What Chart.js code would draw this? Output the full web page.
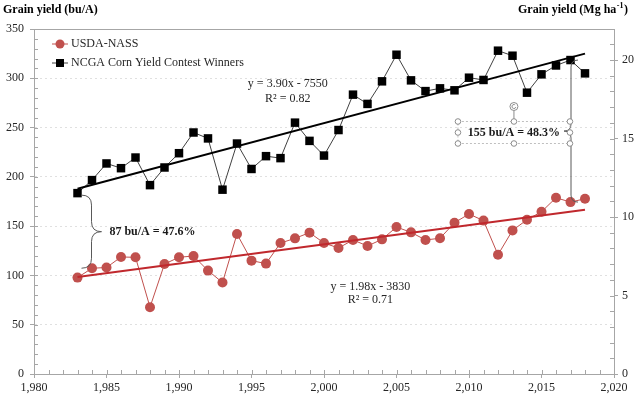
<!DOCTYPE html>
<html>
<head>
<meta charset="utf-8">
<script src="https://cdn.jsdelivr.net/npm/chart.js@4.4.1/dist/chart.umd.min.js"></script>
<style>
  html, body { margin: 0; padding: 0; background: #fff; }
  #wrap { width: 640px; height: 396px; }
</style>
</head>
<body>
<div id="wrap"><canvas id="chartYield"></canvas></div>
<script>
// Anos e produtividades (bu/A)
const years = [1983, 1984, 1985, 1986, 1987, 1988, 1989, 1990, 1991, 1992, 1993, 1994,
  1995, 1996, 1997, 1998, 1999, 2000, 2001, 2002, 2003, 2004, 2005, 2006,
  2007, 2008, 2009, 2010, 2011, 2012, 2013, 2014, 2015, 2016, 2017, 2018];
const nassYield = [97.8, 107.3, 108, 118.7, 118.4, 67.8, 111.6, 118.4, 119.7, 104.9, 92.8, 142,
  115, 112, 132.9, 137.6, 143.4, 132.9, 127.8, 136, 129.9, 136.6, 149.1, 143.7,
  136, 137.7, 153.5, 162.3, 155.6, 121, 145.7, 156.5, 164.6, 178.8, 174.4, 177.8];
const ncgaYield = [183.5, 196.7, 213.6, 208.8, 219.6, 191.6, 209.5, 224, 245, 239, 187, 233.8,
  208, 221, 219, 255, 236.5, 221.6, 247.5, 283.4, 274, 296.9, 323.9, 297.9,
  287, 289.8, 287.8, 300.6, 298.3, 328, 322.9, 285.4, 304, 313, 318.5, 305];

// Linhas de tendencia (extremos)
const trendYears = [1983, 2018];
const nassTrend = [98.5, 166.7];
const ncgaTrend = [188, 325];

const seriesNames = ['USDA-NASS', 'NCGA Corn Yield Contest Winners'];
const BU_TO_MG = 0.0628; // 1 bu/A milho = 0.0628 Mg/ha
const Y_MAX = 350;

const FONT = "'Liberation Serif', 'DejaVu Serif', serif";
const RED = '#c0504d';

function pts(xs, ys) { return xs.map((x, i) => ({ x: x, y: ys[i] })); }

function brace(ctx, x, y1, y2, d, r) {
  const ym = (y1 + y2) / 2;
  ctx.beginPath();
  ctx.moveTo(x - d * r, y1);
  ctx.quadraticCurveTo(x, y1, x, y1 + r);
  ctx.lineTo(x, ym - r);
  ctx.quadraticCurveTo(x, ym, x + d * r, ym);
  ctx.quadraticCurveTo(x, ym, x, ym + r);
  ctx.lineTo(x, y2 - r);
  ctx.quadraticCurveTo(x, y2, x - d * r, y2);
  ctx.stroke();
}

const decor = {
  id: 'decor',
  beforeDatasetsDraw(chart) {
    const { ctx, chartArea: a, scales } = chart;
    ctx.save();
    ctx.strokeStyle = '#a6a6a6';
    ctx.lineWidth = 1;
    // moldura da area de plotagem
    ctx.strokeRect(Math.round(a.left) + 0.5, Math.round(a.top) + 0.5,
      Math.round(a.right - a.left), Math.round(a.bottom - a.top));
    ctx.beginPath();
    for (let yr = 1980; yr <= 2020; yr++) {
      const px = Math.round(scales.x.getPixelForValue(yr)) + 0.5;
      ctx.moveTo(px, a.bottom); ctx.lineTo(px, a.bottom - 4);
    }
    for (let v = 0; v <= Y_MAX; v += 10) {
      const py = Math.round(scales.y.getPixelForValue(v)) + 0.5;
      ctx.moveTo(a.left, py); ctx.lineTo(a.left + 4, py);
    }
    for (let v = 0; v <= 21; v++) {
      const py = Math.round(scales.y2.getPixelForValue(v)) + 0.5;
      ctx.moveTo(a.right, py); ctx.lineTo(a.right - 4, py);
    }
    ctx.stroke();
    ctx.restore();
  },
  afterDraw(chart) {
    const { ctx, chartArea: a, scales } = chart;
    const X = v => scales.x.getPixelForValue(v);
    const Y = v => scales.y.getPixelForValue(v);
    ctx.save();

    // titulos dos eixos
    ctx.fillStyle = '#000';
    ctx.textBaseline = 'middle';
    ctx.font = 'bold 12px ' + FONT;
    ctx.textAlign = 'left';
    ctx.fillText('Grain yield (bu/A)', 3, 10);
    const t1 = 'Grain yield (Mg ha', t2 = ')';
    ctx.font = 'bold 8px ' + FONT;
    const wSup = ctx.measureText('-1').width;
    ctx.font = 'bold 12px ' + FONT;
    const w1 = ctx.measureText(t1).width, w2 = ctx.measureText(t2).width;
    let tx = 627 - (w1 + wSup + w2);
    ctx.fillText(t1, tx, 10);
    ctx.font = 'bold 8px ' + FONT;
    ctx.fillText('-1', tx + w1 + 0.5, 6);
    ctx.font = 'bold 12px ' + FONT;
    ctx.fillText(t2, tx + w1 + wSup + 1, 10);

    // legenda
    ctx.font = '12px ' + FONT;
    ctx.fillStyle = '#262626';
    const lx = a.left + 26, ly = [a.top + 15, a.top + 34];
    ctx.strokeStyle = RED; ctx.lineWidth = 1;
    ctx.beginPath(); ctx.moveTo(lx - 8, ly[0]); ctx.lineTo(lx + 8, ly[0]); ctx.stroke();
    ctx.fillStyle = RED;
    ctx.beginPath(); ctx.arc(lx, ly[0], 4.5, 0, Math.PI * 2); ctx.fill();
    ctx.strokeStyle = '#404040';
    ctx.beginPath(); ctx.moveTo(lx - 8, ly[1]); ctx.lineTo(lx + 8, ly[1]); ctx.stroke();
    ctx.fillStyle = '#000';
    ctx.fillRect(lx - 4, ly[1] - 4, 8, 8);
    ctx.fillStyle = '#262626';
    ctx.fillText(seriesNames[0], lx + 11, ly[0]);
    ctx.fillText(seriesNames[1], lx + 11, ly[1]);

    // equacoes das tendencias
    ctx.font = '12px ' + FONT;
    ctx.textAlign = 'center';
    ctx.fillText('y = 3.90x - 7550', X(1997.5), Y(294));
    ctx.fillText('R\u00b2 = 0.82', X(1997.5), Y(279));
    ctx.fillText('y = 1.98x - 3830', X(2003.2), Y(88));
    ctx.fillText('R\u00b2 = 0.71', X(2003.2), Y(75));

    // chaves e diferencas
    ctx.strokeStyle = '#595959';
    ctx.lineWidth = 1;
    brace(ctx, X(1984) - 0.5, Y(183.5) + 2, Y(107.3), 1, 10);
    brace(ctx, X(2017) + 0.5, Y(318.5), Y(174.4), -1, 7);

    ctx.font = 'bold 12px ' + FONT;
    ctx.fillStyle = '#1a1a1a';
    ctx.textAlign = 'left';
    ctx.fillText('87 bu/A = 47.6%', X(1985.2), Y(144));
    const cx = X(2013.1), cy = Y(245);
    ctx.textAlign = 'center';
    ctx.fillText('155 bu/A = 48.3%', cx, cy);

    // caixa de selecao (como na figura original)
    const bx0 = cx - 56, bx1 = cx + 56, by0 = cy - 11, by1 = cy + 11;
    ctx.strokeStyle = '#bfbfbf';
    ctx.setLineDash([2, 2]);
    ctx.strokeRect(bx0, by0, bx1 - bx0, by1 - by0);
    ctx.setLineDash([]);
    ctx.strokeStyle = '#8c8c8c';
    ctx.beginPath(); ctx.moveTo(cx, by0); ctx.lineTo(cx, by0 - 11); ctx.stroke();
    const handles = [[bx0, by0], [cx, by0], [bx1, by0], [bx0, cy], [bx1, cy], [bx0, by1], [cx, by1], [bx1, by1]];
    ctx.fillStyle = '#fff';
    handles.forEach(h => {
      ctx.beginPath(); ctx.arc(h[0], h[1], 2.8, 0, Math.PI * 2); ctx.fill(); ctx.stroke();
    });
    ctx.beginPath(); ctx.arc(cx, by0 - 15, 4, 0, Math.PI * 2); ctx.fill(); ctx.stroke();
    ctx.beginPath(); ctx.arc(cx, by0 - 15, 2, 0.3, Math.PI * 1.7); ctx.stroke();
    ctx.restore();
  }
};

new Chart(document.getElementById('chartYield').getContext('2d'), {
  type: 'line',
  data: {
    datasets: [
      {
        label: 'NCGA trend',
        data: pts(trendYears, ncgaTrend),
        borderColor: '#000',
        borderWidth: 2,
        pointRadius: 0
      },
      {
        label: 'NASS trend',
        data: pts(trendYears, nassTrend),
        borderColor: '#c0282d',
        borderWidth: 2,
        pointRadius: 0
      },
      {
        label: seriesNames[0],
        data: pts(years, nassYield),
        borderColor: RED,
        backgroundColor: RED,
        borderWidth: 1,
        pointStyle: 'circle',
        pointRadius: 5,
        pointBorderWidth: 0
      },
      {
        label: seriesNames[1],
        data: pts(years, ncgaYield),
        borderColor: '#404040',
        backgroundColor: '#000',
        borderWidth: 1,
        pointStyle: 'rect',
        pointRadius: 6,
        pointBorderWidth: 0
      }
    ]
  },
  options: {
    responsive: true,
    maintainAspectRatio: false,
    animation: false,
    layout: { padding: { top: 29, left: 0, right: 0, bottom: 0 } },
    plugins: {
      legend: { display: false },
      tooltip: { enabled: false },
      title: { display: false }
    },
    scales: {
      x: {
        type: 'linear',
        min: 1980, max: 2020,
        ticks: { stepSize: 5, padding: 3, color: '#262626', font: { family: FONT, size: 12 } },
        grid: { drawOnChartArea: false, tickLength: 4, color: '#a6a6a6' },
        border: { color: '#a6a6a6' },
        afterFit: s => { s.height = 22; }
      },
      y: {
        position: 'left',
        min: 0, max: Y_MAX,
        ticks: { stepSize: 50, padding: 6, color: '#262626', font: { family: FONT, size: 12 } },
        grid: { color: '#e0e0e0', tickLength: 4, tickColor: '#a6a6a6' },
        border: { color: '#a6a6a6', dash: [2, 3] },
        afterFit: s => { s.width = 34; }
      },
      y2: {
        position: 'right',
        min: 0, max: Y_MAX * BU_TO_MG,
        ticks: { stepSize: 5, padding: 4, color: '#262626', font: { family: FONT, size: 12 } },
        grid: { drawOnChartArea: false, tickLength: 4, color: '#a6a6a6' },
        border: { color: '#a6a6a6' },
        afterBuildTicks: s => { s.ticks = s.ticks.filter(t => Math.abs(t.value % 5) < 1e-6); },
        afterFit: s => { s.width = 26; }
      }
    }
  },
  plugins: [decor]
});
</script>
</body>
</html>
